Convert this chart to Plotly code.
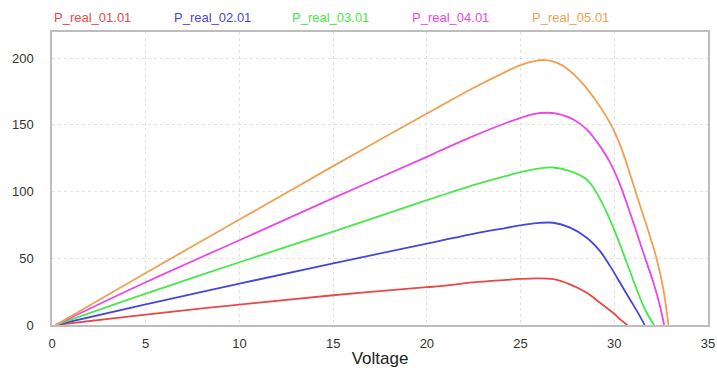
import plotly.graph_objects as go

names = ["P_real_01.01", "P_real_02.01", "P_real_03.01", "P_real_04.01", "P_real_05.01"]
colors = ["#e84848", "#4646d8", "#48e848", "#e848e8", "#f0a050"]

v1 = [0.2, 5, 10, 15, 20, 20.7, 22.48, 24.26, 24.97, 25.86, 26.75, 27.64, 28.53, 29.24, 29.95, 30.35, 30.7]
p1 = [0, 7.8, 15.3, 22.3, 28.3, 29.1, 31.9, 33.8, 34.5, 35.0, 34.3, 30.4, 24.1, 16.6, 9.0, 3.8, 0]

v2 = [0.2, 5, 10, 15, 20, 20.7, 22.48, 24.26, 24.97, 25.86, 26.75, 27.64, 28.53, 29.24, 29.78,
      30.31, 30.84, 31.29, 31.62]
p2 = [0, 15.5, 31, 46.2, 61, 63, 68.3, 72.8, 74.6, 76.3, 76.6, 72.9, 65.4, 55.3, 44.1,
      31.6, 19.1, 8.5, 0]

v3 = [0.2, 5, 10, 15, 20, 20.7, 22.48, 24.26, 25.0, 25.86, 26.75, 27.64, 28.53, 29.06, 29.6,
      30.13, 30.67, 31.2, 31.64, 32.12]
p3 = [0, 23.5, 47, 70, 93.5, 96.7, 104.8, 111.8, 114.5, 117, 118, 115.3, 109, 99, 84.1,
      66.6, 46.6, 26.6, 11.6, 0]

v4 = [0.2, 5, 10, 15, 20, 20.7, 22.48, 24.26, 24.97, 25.68, 26.49, 27.1, 27.82, 28.53, 29.24,
      29.78, 30.31, 31.02, 31.55, 32.09, 32.44, 32.66]
p4 = [0, 32, 63.5, 95, 126, 130.5, 141.5, 151.5, 155, 158, 159, 157.8, 154, 146.6, 134,
      121.6, 105, 76.6, 54.1, 31.6, 14.1, 0]

v5 = [0.2, 5, 10, 15, 20, 20.7, 22.48, 24.26, 24.97, 25.68, 26.3, 26.93, 27.64, 28.35, 28.98,
      29.5, 29.95, 30.4, 30.84, 31.2, 31.73, 32.27, 32.62, 32.89]
p5 = [0, 39, 79, 119, 158.5, 163.8, 177.5, 190, 194.5, 197.5, 198.5, 196.5, 190.3, 180.3, 169,
      157.8, 146.6, 131.6, 113, 97, 74.1, 49.1, 26.6, 0]

x_ticks = [0, 5, 10, 15, 20, 25, 30, 35]
y_ticks = [0, 50, 100, 150, 200]

series = [(v1, p1), (v2, p2), (v3, p3), (v4, p4), (v5, p5)]

fig = go.Figure()
for (v, p), n, c in zip(series, names, colors):
    fig.add_trace(go.Scatter(x=v, y=p, mode="lines", name=n,
                             line=dict(color=c, width=1.8, shape="spline", smoothing=1.0)))

legend_x = [52, 172, 290, 410, 530]
for n, c, px in zip(names, colors, legend_x):
    fig.add_annotation(x=(px - 52) / 656, y=(325 - 17.5) / 293, xref="paper", yref="paper",
                       text=n, showarrow=False, xanchor="left", yanchor="middle",
                       font=dict(color=c, size=13, family="Liberation Sans, Arial, sans-serif"))

fig.update_layout(
    width=717, height=376,
    margin=dict(l=52, r=9, t=32, b=51),
    paper_bgcolor="white", plot_bgcolor="white",
    showlegend=False,
    font=dict(family="Liberation Sans, Arial, sans-serif", size=13, color="#333333"),
)
fig.update_xaxes(range=[0, 35], tickvals=x_ticks, showgrid=True, gridcolor="#e2e2e2",
                 griddash="dot", gridwidth=1, showline=True, linecolor="#bdbdbd", linewidth=1.5,
                 mirror=True, zeroline=False, ticks="", ticklabelstandoff=6, automargin=False,
                 title=dict(text="Voltage", font=dict(size=17, color="#222222"), standoff=2))
fig.update_yaxes(range=[0, 219.5], tickvals=y_ticks, showgrid=True, gridcolor="#e2e2e2",
                 griddash="dot", gridwidth=1, showline=True, linecolor="#bdbdbd", linewidth=1.5,
                 mirror=True, zeroline=False, ticks="", ticklabelstandoff=14, automargin=False)

# remove the browser's default 8px body margin so the 717x376 figure fills the window exactly
fig.write_html("out.html", config={"displayModeBar": False},
               post_script="document.body.style.margin='0';document.body.style.overflow='hidden';")
